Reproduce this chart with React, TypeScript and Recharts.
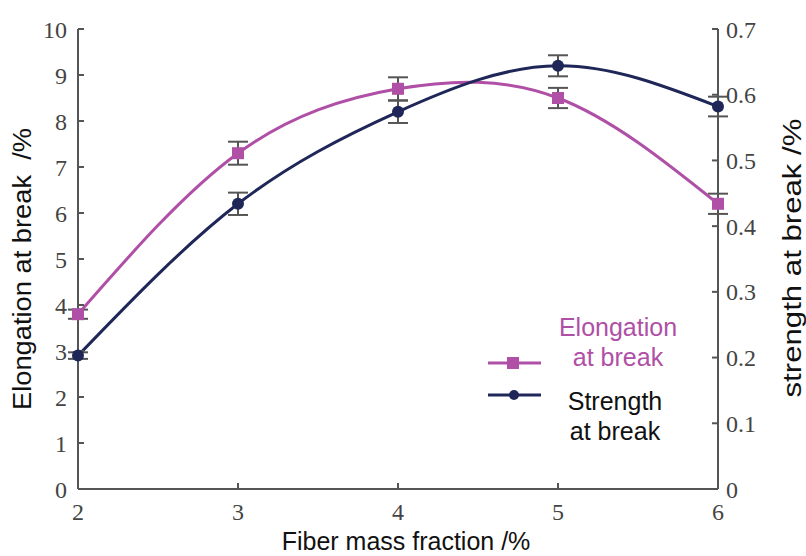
import React from "react";
import { LineChart, Line, XAxis, YAxis, ErrorBar } from "recharts";

// fiber mass fraction (%)
const fraction = [2, 3, 4, 5, 6];
// elongation at break (%), left axis
const elongation = [3.8, 7.3, 8.7, 8.5, 6.2];
const elongationErr = [0.1, 0.25, 0.25, 0.22, 0.22];
// strength at break, right axis
const strength = [0.203, 0.434, 0.574, 0.644, 0.582];
const strengthErr = [0.005, 0.017, 0.017, 0.016, 0.015];

const leftTicks = [0, 1, 2, 3, 4, 5, 6, 7, 8, 9, 10];
const rightTicks = [0, 0.1, 0.2, 0.3, 0.4, 0.5, 0.6, 0.7];

const PINK = "#b04fa6";
const NAVY = "#1f2758";
const AXIS = "#555555";
const SANS = "'Liberation Sans', Arial, sans-serif";

const data = fraction.map((f, i) => ({
  x: f,
  elong: elongation[i],
  elongErr: elongationErr[i],
  str: strength[i],
  strErr: strengthErr[i],
}));

const tickStyle = {
  fontFamily: "'Liberation Serif', serif",
  fontSize: 24,
  fill: "#444",
};

const labelStyle = {
  fontFamily: SANS,
  fontSize: 25,
  fill: "#111",
};

const Square = (props: any) => {
  const { cx, cy } = props;
  return <rect x={cx - 6} y={cy - 6} width={12} height={12} fill={PINK} />;
};

const Dot = (props: any) => {
  const { cx, cy } = props;
  return <circle cx={cx} cy={cy} r={6} fill={NAVY} />;
};

// rotated axis title, stretched a bit to match the original's length
const SideLabel = (props: any) => {
  const { viewBox, text, dx, dy, len } = props;
  const cx = viewBox.x + viewBox.width / 2 + dx;
  const cy = viewBox.y + viewBox.height / 2 + dy;
  return (
    <text
      x={cx}
      y={cy}
      transform={`rotate(-90 ${cx} ${cy})`}
      textAnchor="middle"
      dominantBaseline="central"
      textLength={len}
      lengthAdjust="spacingAndGlyphs"
      fontFamily={SANS}
      fontSize={25}
      fill="#111"
      style={{ whiteSpace: "pre" }}
    >
      {text}
    </text>
  );
};

// legend drawn by hand, sits inside the plot area lower right
function MyLegend() {
  const txt = {
    position: "absolute" as const,
    fontFamily: SANS,
    fontSize: 25,
    lineHeight: "30px",
    textAlign: "center" as const,
    width: 150,
  };
  return (
    <div style={{ position: "absolute", left: 0, top: 0, width: 806, height: 556, pointerEvents: "none" }}>
      <svg width={806} height={556} style={{ position: "absolute", left: 0, top: 0 }}>
        <line x1={488} y1={363} x2={541} y2={363} stroke={PINK} strokeWidth={3} />
        <rect x={507} y={357} width={12} height={12} fill={PINK} />
        <line x1={488} y1={395} x2={541} y2={395} stroke={NAVY} strokeWidth={3} />
        <circle cx={514} cy={395} r={5} fill={NAVY} />
      </svg>
      <div style={{ ...txt, left: 543, top: 312, color: PINK }}>
        Elongation
        <br />
        at break
      </div>
      <div style={{ ...txt, left: 540, top: 386, color: "#111" }}>
        Strength
        <br />
        at break
      </div>
    </div>
  );
}

export default function App() {
  return (
    <div style={{ position: "absolute", left: 0, top: 0, width: 806, height: 556, background: "#fff" }}>
      <LineChart
        width={806}
        height={556}
        data={data}
        margin={{ top: 29, right: 38, bottom: 22, left: 28 }}
      >
        <XAxis
          dataKey="x"
          type="number"
          domain={[2, 6]}
          ticks={fraction}
          height={45}
          stroke={AXIS}
          strokeWidth={2}
          tickSize={-6}
          tickMargin={20}
          tick={tickStyle}
          label={{
            value: "Fiber mass fraction /%",
            position: "center",
            dy: 30,
            dx: 8,
            style: labelStyle,
          }}
        />
        <YAxis
          yAxisId="left"
          domain={[0, 10]}
          ticks={leftTicks}
          width={50}
          stroke={AXIS}
          strokeWidth={2}
          tickSize={-6}
          tickMargin={17}
          tick={tickStyle}
          interval={0}
          label={<SideLabel text={"Elongation at break  /%"} dx={-31} dy={10} len={282} />}
        />
        <YAxis
          yAxisId="right"
          orientation="right"
          domain={[0, 0.7]}
          ticks={rightTicks}
          width={50}
          stroke={AXIS}
          strokeWidth={2}
          tickSize={-6}
          tickMargin={14}
          tick={tickStyle}
          interval={0}
          tickFormatter={(v: number) => (v === 0 ? "0" : v.toFixed(1))}
          label={<SideLabel text="strength at break /%" dx={49} dy={-1} len={279} />}
        />
        <Line
          yAxisId="left"
          type="natural"
          dataKey="elong"
          stroke={PINK}
          strokeWidth={3}
          dot={<Square />}
          isAnimationActive={false}
        >
          <ErrorBar dataKey="elongErr" width={10} stroke="#555" strokeWidth={2} direction="y" />
        </Line>
        <Line
          yAxisId="right"
          type="natural"
          dataKey="str"
          stroke={NAVY}
          strokeWidth={3}
          dot={<Dot />}
          isAnimationActive={false}
        >
          <ErrorBar dataKey="strErr" width={10} stroke="#555" strokeWidth={2} direction="y" />
        </Line>
      </LineChart>
      <MyLegend />
    </div>
  );
}
